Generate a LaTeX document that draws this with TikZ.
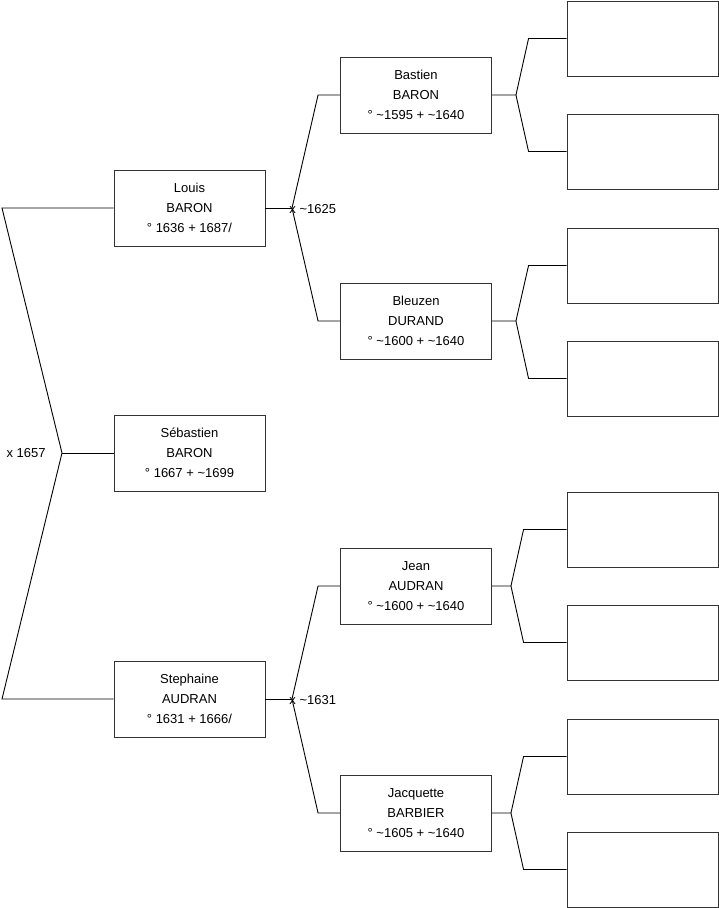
\documentclass[tikz,border=0pt]{standalone}
\usepackage{fontspec}
\setmainfont{Liberation Sans}
\usetikzlibrary{positioning}

\begin{document}
\begin{tikzpicture}[
  x=1pt,y=-1pt,
  line width=0.9pt,
  person/.style={draw=black!80,minimum width=151pt,minimum height=76pt,
    inner sep=0pt,align=center,font=\fontsize{13}{20}\selectfont},
  blank/.style={draw=black!80,minimum width=151pt,minimum height=75pt,inner sep=0pt},
  wed/.style={inner sep=0pt,font=\fontsize{13}{15}\selectfont}
]
\useasboundingbox (0,0) rectangle (719,908);

% generation 1
\node[person] (louis) at (189.5,208) {Louis\\BARON\\° 1636 + 1687/};
\node[person] (sebastien) at (189.5,453) {Sébastien\\BARON\\° 1667 + \textasciitilde1699};
\node[person] (stephaine) at (189.5,699) {Stephaine\\AUDRAN\\° 1631 + 1666/};

% generation 2
\node[person] (bastien) at (416,95) {Bastien\\BARON\\° \textasciitilde1595 + \textasciitilde1640};
\node[person] (bleuzen) at (416,321) {Bleuzen\\DURAND\\° \textasciitilde1600 + \textasciitilde1640};
\node[person] (jean) at (416,586) {Jean\\AUDRAN\\° \textasciitilde1600 + \textasciitilde1640};
\node[person] (jacquette) at (416,813) {Jacquette\\BARBIER\\° \textasciitilde1605 + \textasciitilde1640};

% generation 3 (empty)
\foreach \i/\y in {1/38.5,2/151.5,3/265.5,4/378.5,5/529.5,6/642.5,7/756.5,8/869.5}{
  \node[blank] (b\i) at (642.5,\y) {};
}

% parents of Sébastien
\coordinate (a1) at (2,208);
\coordinate (a2) at (2,699);
\coordinate (m0) at (62,453);
\draw (louis.west) -- (a1) -- (m0) -- (a2) -- (stephaine.west);
\draw (m0) -- (sebastien.west);
\node[wed,left=16pt of m0] (x0) {x 1657};

% parents of Louis
\coordinate (m1) at (292,208);
\draw (louis.east) -- (m1);
\draw (bastien.west) -- ++(-22,0) -- (m1) -- ([xshift=-22pt]bleuzen.west) -- (bleuzen.west);
\node[wed,anchor=west] (x1) at ([xshift=-3pt,yshift=-1.5pt]m1) {x \textasciitilde1625};

% parents of Stephaine
\coordinate (m2) at (292,699);
\draw (stephaine.east) -- (m2);
\draw (jean.west) -- ++(-22,0) -- (m2) -- ([xshift=-22pt]jacquette.west) -- (jacquette.west);
\node[wed,anchor=west] (x2) at ([xshift=-3pt,yshift=-1.5pt]m2) {x \textasciitilde1631};

% generation 3 links
\foreach \p/\a/\b/\d/\e in {bastien/b1/b2/24/38, bleuzen/b3/b4/24/38,
                            jean/b5/b6/19/43, jacquette/b7/b8/19/43}{
  \draw (\p.east) -- ++(\d,0) coordinate (j)
    -- ([xshift=-\e pt]\a.west) -- (\a.west);
  \draw (j) -- ([xshift=-\e pt]\b.west) -- (\b.west);
}
\end{tikzpicture}
\end{document}
